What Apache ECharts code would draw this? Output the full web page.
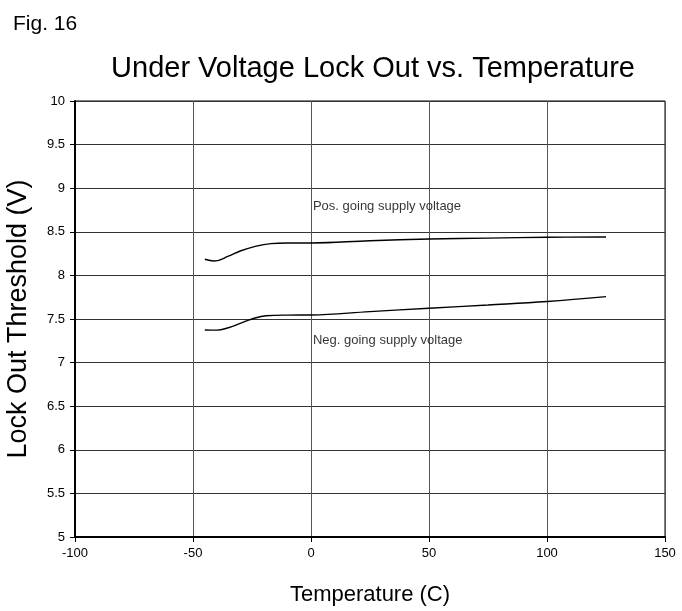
<!DOCTYPE html>
<html><head><meta charset="utf-8">
<script src="https://cdn.jsdelivr.net/npm/echarts@6/dist/echarts.min.js"></script>
<style>html,body{margin:0;padding:0;background:#fff}#c{width:682px;height:611px}</style>
</head><body><div id="c"></div>
<script>
const posTemp = [-45, -41, -35, -30, -24, -17, -10, 0, 25, 50, 75, 100, 125];
const posVolt = [8.185, 8.165, 8.22, 8.28, 8.33, 8.365, 8.372, 8.372, 8.398, 8.417, 8.428, 8.437, 8.44];
const negTemp = [-45, -40, -35, -30, -25, -19, -10, 0, 25, 50, 75, 100, 125];
const negVolt = [7.374, 7.372, 7.40, 7.45, 7.50, 7.538, 7.545, 7.546, 7.585, 7.623, 7.66, 7.70, 7.756];
const xTicks = [-100, -50, 0, 50, 100, 150];
const yTicks = [5, 5.5, 6, 6.5, 7, 7.5, 8, 8.5, 9, 9.5, 10];
const annotText = ['Pos. going supply voltage', 'Neg. going supply voltage'];
const annotX = [0.6, 0.6];
const annotY = [8.79, 7.25];

const chart = echarts.init(document.getElementById('c'));
const font = 'Liberation Sans, Arial, sans-serif';
function pair(xs, ys){ return xs.map((x,i)=>[x, ys[i]]); }
chart.setOption({
  animation:false,
  backgroundColor:'#fff',
  title:[
    {text:'Fig. 16', left:8, top:9, textStyle:{fontSize:21, fontWeight:'normal', color:'#000', fontFamily:font}},
    {text:'Under Voltage Lock Out vs. Temperature', left:368, top:49, textAlign:'center', textStyle:{fontSize:29, fontWeight:'normal', color:'#000', fontFamily:font}}
  ],
  grid:{left:75, right:17, top:101, bottom:74, show:true, borderColor:'#000', borderWidth:1, outerBoundsMode:'none', containLabel:false},
  xAxis:{type:'value', min:xTicks[0], max:xTicks[xTicks.length-1], interval:50,
    name:'Temperature (C)', nameLocation:'middle', nameGap:47,
    nameTextStyle:{fontSize:22, color:'#000', fontFamily:font},
    axisLine:{show:true, onZero:false, lineStyle:{color:'#000', width:2}},
    axisTick:{show:true, length:5, lineStyle:{color:'#000'}},
    axisLabel:{color:'#000', fontSize:13, fontFamily:font, margin:10},
    splitLine:{show:true, lineStyle:{color:'#555', width:1}}},
  yAxis:{type:'value', min:yTicks[0], max:yTicks[yTicks.length-1], interval:0.5,
    name:'Lock Out Threshold (V)', nameLocation:'middle', nameGap:43,
    nameTextStyle:{fontSize:27, color:'#000', fontFamily:font},
    axisLine:{show:true, onZero:false, lineStyle:{color:'#000', width:2}},
    axisTick:{show:true, length:5, lineStyle:{color:'#000'}},
    axisLabel:{color:'#000', fontSize:13, fontFamily:font, margin:10},
    splitLine:{show:true, lineStyle:{color:'#333', width:1}}},
  series:[
    {type:'line', data:pair(posTemp, posVolt), smooth:0.4, showSymbol:false, lineStyle:{color:'#000', width:1.4}},
    {type:'line', data:pair(negTemp, negVolt), smooth:0.4, showSymbol:false, lineStyle:{color:'#000', width:1.4}},
    {type:'scatter', symbolSize:1, itemStyle:{color:'rgba(0,0,0,0)'}, silent:true,
     data:annotText.map((t,i)=>({value:[annotX[i], annotY[i]], name:t})),
     label:{show:true, formatter:p=>p.name, position:'right', distance:0, color:'#000', fontSize:13, fontFamily:font}}
  ]
});
</script></body></html>
